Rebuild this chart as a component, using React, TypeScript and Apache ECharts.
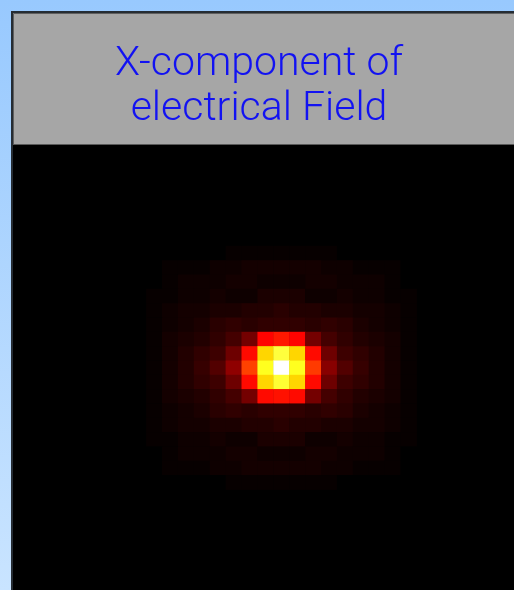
import { useEffect, useRef } from "react";
import * as echarts from "echarts";

const TITLE_LINES = ["X-component of", "electrical Field"];

// Field magnitude (0–100) around the focal spot, rows top to bottom, columns left to right.
const FIELD_ROWS: number[][] = [
  [0, 0, 0, 0, 0, 1, 1, 1, 1, 1, 1, 1, 0, 0, 0, 0, 0],
  [0, 1, 1, 1, 2, 2, 3, 3, 3, 3, 3, 2, 2, 1, 1, 1, 0],
  [0, 1, 2, 2, 2, 3, 3, 2, 2, 2, 3, 3, 2, 2, 2, 1, 0],
  [1, 1, 2, 2, 3, 2, 2, 4, 4, 4, 2, 2, 3, 2, 2, 1, 1],
  [1, 2, 3, 3, 4, 4, 5, 5, 6, 5, 5, 4, 4, 3, 3, 2, 1],
  [1, 2, 3, 4, 6, 7, 6, 7, 7, 7, 6, 7, 6, 4, 3, 2, 1],
  [1, 3, 4, 5, 7, 10, 17, 38, 41, 38, 17, 10, 7, 5, 4, 3, 1],
  [1, 3, 5, 7, 9, 16, 39, 69, 81, 69, 39, 16, 9, 7, 5, 3, 1],
  [1, 3, 5, 8, 12, 21, 47, 78, 100, 78, 46, 20, 12, 8, 5, 3, 1],
  [1, 3, 5, 7, 9, 16, 39, 69, 80, 69, 39, 16, 9, 7, 5, 3, 1],
  [1, 3, 4, 5, 7, 10, 17, 39, 40, 39, 17, 10, 7, 5, 4, 3, 1],
  [1, 2, 3, 4, 6, 7, 6, 7, 7, 7, 6, 7, 6, 4, 3, 2, 1],
  [1, 2, 3, 3, 4, 4, 5, 5, 6, 5, 5, 4, 4, 3, 3, 2, 1],
  [1, 1, 2, 2, 3, 2, 2, 4, 4, 4, 2, 2, 3, 2, 2, 1, 1],
  [0, 1, 2, 2, 2, 3, 3, 2, 2, 2, 3, 3, 2, 2, 2, 1, 0],
  [0, 1, 1, 1, 2, 2, 3, 3, 3, 3, 3, 2, 2, 1, 1, 1, 0],
  [0, 0, 0, 0, 0, 1, 1, 1, 1, 1, 1, 1, 0, 0, 0, 0, 0],
];

const GRID_COLS = 31;
const GRID_ROWS = 31;
// Cell index of FIELD_ROWS[0][0] inside the full grid.
const FIELD_COL0 = 8;
const FIELD_ROW0 = 7;

// "hot" colour map: black -> red -> yellow -> white
const HOT_COLORS = [
  "#000000",
  "#550000",
  "#aa0000",
  "#ff0000",
  "#ff5500",
  "#ffaa00",
  "#ffff00",
  "#ffff80",
  "#ffffff",
];

const CELL_W = 15.9;
const CELL_H = 14.5;

export default function App() {
  const ref = useRef<HTMLDivElement>(null);

  useEffect(() => {
    if (!ref.current) return;
    const chart = echarts.init(ref.current, undefined, { renderer: "svg" });

    const cells: number[][] = [];
    FIELD_ROWS.forEach((row, r) => {
      row.forEach((v, c) => {
        cells.push([FIELD_COL0 + c, FIELD_ROW0 + r, v]);
      });
    });

    const colCats = Array.from({ length: GRID_COLS }, (_, i) => String(i));
    const rowCats = Array.from({ length: GRID_ROWS }, (_, i) => String(i));

    chart.setOption({
      animation: false,
      backgroundColor: "transparent",
      grid: {
        left: 19.15,
        top: 145.75,
        width: GRID_COLS * CELL_W,
        height: GRID_ROWS * CELL_H,
        containLabel: false,
      },
      xAxis: { type: "category", data: colCats, show: false },
      yAxis: { type: "category", data: rowCats, show: false, inverse: true },
      visualMap: {
        type: "continuous",
        show: false,
        min: 0,
        max: 100,
        dimension: 2,
        seriesIndex: 0,
        inRange: { color: HOT_COLORS },
      },
      series: [
        {
          type: "heatmap",
          data: cells,
          z: 5,
          itemStyle: { borderWidth: 0 },
          emphasis: { disabled: true },
        },
      ],
      graphic: [
        {
          type: "rect",
          z: 0,
          silent: true,
          shape: { x: 0, y: 0, width: 514, height: 590 },
          style: {
            fill: {
              type: "linear",
              x: 0,
              y: 0,
              x2: 0,
              y2: 1,
              colorStops: [
                { offset: 0, color: "#98c9fe" },
                { offset: 1, color: "#c9e4ff" },
              ],
            },
          },
        },
        {
          type: "rect",
          z: 1,
          silent: true,
          shape: { x: 13, y: 145, width: 502, height: 446 },
          style: { fill: "#000000" },
        },
        {
          type: "rect",
          z: 10,
          silent: true,
          shape: { x: 13, y: 13, width: 502, height: 132 },
          style: { fill: "#a6a6a6" },
        },
        {
          type: "polyline",
          z: 11,
          silent: true,
          shape: { points: [[13.5, 145], [13.5, 13.5], [515, 13.5]] },
          style: { stroke: "#5e5e5e", lineWidth: 1, fill: "none" },
        },
        {
          type: "line",
          z: 11,
          silent: true,
          shape: { x1: 13, y1: 144.5, x2: 515, y2: 144.5 },
          style: { stroke: "#595959", lineWidth: 1 },
        },
        {
          type: "rect",
          z: 12,
          silent: true,
          shape: { x: 12, y: 12, width: 520, height: 600 },
          style: { fill: "none", stroke: "#252c33", lineWidth: 2 },
        },
        {
          type: "text",
          z: 13,
          silent: true,
          x: 259,
          y: 38,
          style: {
            text: TITLE_LINES.join("\n"),
            fill: "#1212f2",
            font: "300 41px Roboto, 'Liberation Sans', sans-serif",
            align: "center",
            verticalAlign: "top",
            lineHeight: 45,
          },
        },
      ],
    });

    return () => chart.dispose();
  }, []);

  return (
    <div
      ref={ref}
      style={{ position: "fixed", left: 0, top: 0, width: 514, height: 590 }}
    />
  );
}
